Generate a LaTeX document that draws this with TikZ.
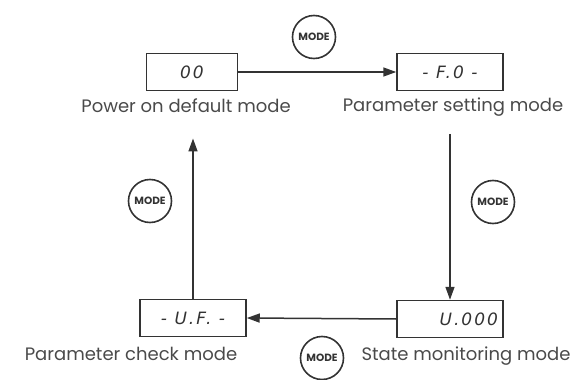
\documentclass[tikz,border=0pt]{standalone}
\usepackage{fontspec}
\setmainfont{Poppins}
\newfontfamily\segfont{DejaVu Sans}[LetterSpace=12]
\usetikzlibrary{arrows.meta, positioning}
\definecolor{inkgray}{HTML}{333333}
\definecolor{textgray}{HTML}{4A4A4A}
\begin{document}
\begin{tikzpicture}[x=1pt, y=-1pt,
    lcd/.style={draw=inkgray, line width=1.5pt, minimum width=106pt, minimum height=37pt,
      inner sep=0pt, text=inkgray, font=\segfont\itshape\fontsize{17}{17}\selectfont},
    modekey/.style={circle, draw=inkgray, line width=1.6pt, minimum size=43pt, inner sep=0pt,
      text=inkgray, font=\bfseries\fontsize{10.5}{10.5}\selectfont},
    caption/.style={text=textgray, font=\fontsize{18}{18}\selectfont},
    arr/.style={-{Triangle[length=13pt,width=9pt]}, line width=1.5pt, inkgray},
  ]
  \useasboundingbox (0,0) rectangle (582,380);

  % displays
  \node[lcd, minimum width=91pt] (pwr) at (192,72) {00};
  \node[lcd] (pset) at (450,72) {- F.0 -};
  \node[lcd] (pchk) at (193,318) {- U.F. -};
  \node[lcd, text width=96pt, align=right] (mon) at (450,319) {U.000};

  % mode names
  \node[caption] (lpwr)  at (186,106) {Power on default mode};
  \node[caption] (lpset) at (453,107) {Parameter setting mode};
  \node[caption] (lpchk) at (131,354) {Parameter check mode};
  \node[caption] (lmon)  at (466,356) {State monitoring mode};

  % MODE keys
  \node[modekey] (k1) at (314,37)  {MODE};
  \node[modekey] (k2) at (493,202) {MODE};
  \node[modekey] (k3) at (322,358) {MODE};
  \node[modekey] (k4) at (150,201) {MODE};

  \draw[arr] (pwr.east) -- (pset.west);
  \draw[arr, shorten <=14pt] (pset.south |- lpset.south) -- (mon.north);
  \draw[arr] (mon.west) -- (pchk.east);
  \draw[arr, shorten >=22pt] (pchk.north) -- (pchk.north |- lpwr.south);
\end{tikzpicture}
\end{document}
